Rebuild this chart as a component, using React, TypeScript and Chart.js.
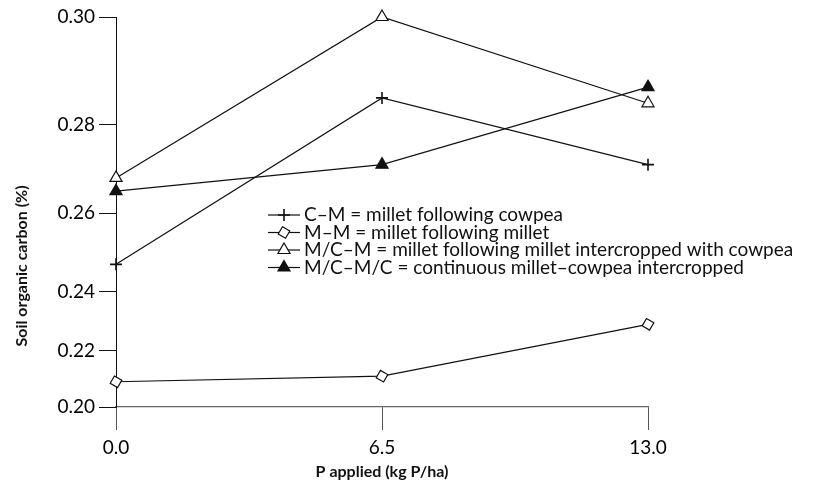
import React, { useEffect, useRef } from 'react';
import { Chart, registerables, LinearScale } from 'chart.js';
import { drawPoint } from 'chart.js/helpers';

// ---- data ----
const categories = ['0.0', '6.5', '13.0'];
const cmValues = [0.247, 0.285, 0.271];
const mmValues = [0.209, 0.211, 0.229];
const mcmValues = [0.268, 0.3, 0.284];
const mcmcValues = [0.265, 0.271, 0.287];
const seriesLabels = [
  'C\u2013M = millet following cowpea',
  'M\u2013M = millet following millet',
  'M/C\u2013M = millet following millet intercropped with cowpea',
  'M/C\u2013M/C = continuous millet\u2013cowpea intercropped',
];
const yTickValues = [0.2, 0.22, 0.24, 0.26, 0.28, 0.3];

// The original value axis is not evenly spaced: share of the axis height at each tick.
const yTickFractions = [0, 0.1438, 0.2953, 0.4967, 0.7234, 1];

const FONT = 'Lato, "Liberation Sans", sans-serif';
const INK = '#111';

class WarpedScale extends LinearScale {
  static id = 'warped';
  static defaults = LinearScale.defaults;
  toFraction(v: number): number {
    const vs = yTickValues;
    const fs = yTickFractions;
    let i = 1;
    while (i < vs.length - 1 && v > vs[i]) i++;
    const t = (v - vs[i - 1]) / (vs[i] - vs[i - 1]);
    return fs[i - 1] + t * (fs[i] - fs[i - 1]);
  }
  fromFraction(f: number): number {
    const vs = yTickValues;
    const fs = yTickFractions;
    let i = 1;
    while (i < fs.length - 1 && f > fs[i]) i++;
    const t = (f - fs[i - 1]) / (fs[i] - fs[i - 1]);
    return vs[i - 1] + t * (vs[i] - vs[i - 1]);
  }
  getPixelForValue(value: any) {
    return this.getPixelForDecimal(this.toFraction(value));
  }
  getValueForPixel(pixel: number) {
    return this.fromFraction(this.getDecimalForPixel(pixel));
  }
}

Chart.register(...registerables, WarpedScale);

const markerStyles = [
  { pointStyle: 'cross', radius: 6, rotation: 0, fill: INK, borderWidth: 1.6 },
  { pointStyle: 'rect', radius: 6, rotation: 30, fill: '#fff', borderWidth: 1.2 },
  { pointStyle: 'triangle', radius: 7, rotation: 0, fill: '#fff', borderWidth: 1.2 },
  { pointStyle: 'triangle', radius: 7, rotation: 0, fill: INK, borderWidth: 1.2 },
];

const legendPlugin = {
  id: 'customLegend',
  afterDraw(chart: any) {
    const ctx = chart.ctx;
    ctx.save();
    const x0 = 268;
    const x1 = 300;
    const yStart = 215;
    const step = 17.5;
    chart.data.datasets.forEach((ds: any, i: number) => {
      const y = yStart + i * step;
      ctx.strokeStyle = INK;
      ctx.lineWidth = 1.2;
      ctx.beginPath();
      ctx.moveTo(x0, y);
      ctx.lineTo(x1, y);
      ctx.stroke();
      const m = markerStyles[i];
      ctx.fillStyle = m.fill;
      ctx.strokeStyle = INK;
      ctx.lineWidth = m.borderWidth;
      drawPoint(ctx, { pointStyle: m.pointStyle as any, radius: m.radius, rotation: m.rotation, borderWidth: m.borderWidth }, (x0 + x1) / 2, y);
      ctx.fillStyle = INK;
      ctx.font = `19px ${FONT}`;
      ctx.textAlign = 'left';
      ctx.textBaseline = 'middle';
      ctx.fillText(ds.label, x1 + 4, y);
    });
    ctx.restore();
  },
};

const yTitlePlugin = {
  id: 'yTitle',
  afterDraw(chart: any) {
    const ctx = chart.ctx;
    ctx.save();
    ctx.translate(22, 266);
    ctx.rotate(-Math.PI / 2);
    ctx.font = `bold 16px ${FONT}`;
    ctx.fillStyle = INK;
    ctx.textAlign = 'center';
    ctx.textBaseline = 'middle';
    ctx.fillText('Soil organic carbon (%)', 0, 0);
    ctx.restore();
  },
};

export default function App() {
  const ref = useRef<HTMLCanvasElement | null>(null);
  useEffect(() => {
    if (!ref.current) return;
    const values = [cmValues, mmValues, mcmValues, mcmcValues];
    const chart = new Chart(ref.current, {
      type: 'line',
      data: {
        labels: categories,
        datasets: values.map((v, i) => ({
          label: seriesLabels[i],
          data: v,
          borderColor: INK,
          borderWidth: 1.2,
          tension: 0,
          fill: false,
          pointStyle: markerStyles[i].pointStyle as any,
          pointRadius: markerStyles[i].radius,
          pointRotation: markerStyles[i].rotation,
          pointBackgroundColor: markerStyles[i].fill,
          pointBorderColor: INK,
          pointBorderWidth: markerStyles[i].borderWidth,
          clip: false as any,
        })),
      },
      options: {
        animation: false,
        responsive: true,
        maintainAspectRatio: false,
        layout: { padding: { top: 17, right: 169, left: 0, bottom: 0 } },
        plugins: {
          legend: { display: false },
          tooltip: { enabled: false },
        },
        scales: {
          x: {
            type: 'category',
            offset: false,
            grid: { drawOnChartArea: false, drawTicks: true, tickLength: 23, color: '#555', offset: false },
            border: { display: true, color: '#666', width: 1.2 },
            ticks: { color: '#000', font: { family: FONT, size: 19 }, padding: 6, maxRotation: 0, autoSkip: false },
            title: {
              display: true,
              text: 'P applied (kg P/ha)',
              color: INK,
              font: { family: FONT, size: 16, weight: 'bold' },
              padding: { top: 0, bottom: 6 },
            },
            afterFit: (s: any) => {
              s.height = 80;
            },
          },
          y: {
            type: 'warped' as any,
            min: 0.2,
            max: 0.3,
            grid: { drawOnChartArea: false, drawTicks: true, tickLength: 17, color: INK },
            border: { display: true, color: INK, width: 1 },
            ticks: {
              stepSize: 0.02,
              color: '#000',
              font: { family: FONT, size: 19 },
              padding: 4,
              callback: (v: any) => Number(v).toFixed(2),
            },
            afterFit: (s: any) => {
              s.width = 116;
            },
          },
        },
      },
      plugins: [legendPlugin, yTitlePlugin],
    });
    return () => chart.destroy();
  }, []);
  return (
    <div style={{ position: 'absolute', left: 0, top: 0, width: 817, height: 487, background: '#fff' }}>
      <canvas ref={ref} />
    </div>
  );
}
